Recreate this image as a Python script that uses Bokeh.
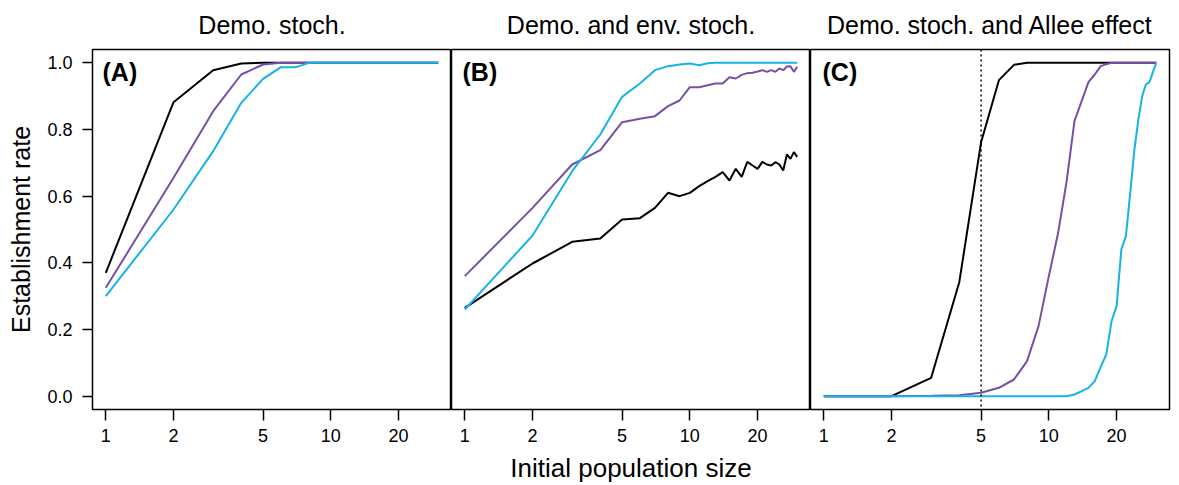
import math
from bokeh.plotting import figure
from bokeh.models import Range1d, FixedTicker, PrintfTickFormatter, Label, Span
from bokeh.layouts import row
from bokeh.embed import file_html
from bokeh.resources import INLINE

# ---------------- data ----------------
init_size = list(range(1, 31))

a_black = [0.37, 0.882, 0.978, 0.998, 1.0, 1.0, 1.0, 1.0, 1.0, 1.0,
           1.0, 1.0, 1.0, 1.0, 1.0, 1.0, 1.0, 1.0, 1.0, 1.0,
           1.0, 1.0, 1.0, 1.0, 1.0, 1.0, 1.0, 1.0, 1.0, 1.0]
a_purple = [0.325, 0.655, 0.855, 0.965, 0.995, 1.0, 1.0, 1.0, 1.0, 1.0,
            1.0, 1.0, 1.0, 1.0, 1.0, 1.0, 1.0, 1.0, 1.0, 1.0,
            1.0, 1.0, 1.0, 1.0, 1.0, 1.0, 1.0, 1.0, 1.0, 1.0]
a_cyan = [0.30, 0.56, 0.735, 0.88, 0.952, 0.987, 0.987, 1.0, 1.0, 1.0,
          1.0, 1.0, 1.0, 1.0, 1.0, 1.0, 1.0, 1.0, 1.0, 1.0,
          1.0, 1.0, 1.0, 1.0, 1.0, 1.0, 1.0, 1.0, 1.0, 1.0]

b_black = [0.265, 0.398, 0.463, 0.473, 0.53, 0.534, 0.565, 0.61, 0.60, 0.61,
           0.63, 0.645, 0.658, 0.672, 0.647, 0.682, 0.658, 0.703, 0.692, 0.682,
           0.703, 0.695, 0.692, 0.702, 0.695, 0.677, 0.725, 0.712, 0.732, 0.718]
b_purple = [0.36, 0.565, 0.695, 0.738, 0.822, 0.832, 0.84, 0.87, 0.887, 0.927,
            0.927, 0.933, 0.938, 0.938, 0.957, 0.953, 0.964, 0.969, 0.97, 0.974,
            0.978, 0.973, 0.978, 0.973, 0.983, 0.978, 0.989, 0.99, 0.973, 0.988]
b_cyan = [0.26, 0.482, 0.675, 0.785, 0.898, 0.938, 0.978, 0.99, 0.995, 0.998,
          0.993, 0.999, 1.0, 1.0, 1.0, 1.0, 1.0, 1.0, 1.0, 1.0,
          1.0, 1.0, 1.0, 1.0, 1.0, 1.0, 1.0, 1.0, 1.0, 1.0]

c_black = [0.0, 0.0, 0.055, 0.342, 0.762, 0.948, 0.994, 1.0, 1.0, 1.0,
           1.0, 1.0, 1.0, 1.0, 1.0, 1.0, 1.0, 1.0, 1.0, 1.0,
           1.0, 1.0, 1.0, 1.0, 1.0, 1.0, 1.0, 1.0, 1.0, 1.0]
c_purple = [0.0, 0.0, 0.001, 0.003, 0.01, 0.025, 0.05, 0.105, 0.21, 0.36,
            0.49, 0.645, 0.825, 0.886, 0.942, 0.965, 0.99, 0.996, 1.0, 1.0,
            1.0, 1.0, 1.0, 1.0, 1.0, 1.0, 1.0, 1.0, 1.0, 1.0]
c_cyan = [0.0, 0.0, 0.0, 0.0, 0.0, 0.0, 0.0, 0.0, 0.0, 0.0,
          0.0, 0.0, 0.005, 0.015, 0.025, 0.045, 0.088, 0.125, 0.225, 0.27,
          0.44, 0.48, 0.61, 0.74, 0.83, 0.90, 0.935, 0.942, 0.972, 1.0]

allee_threshold = 5

x_ticks = [1, 2, 5, 10, 20]
y_ticks = [0.0, 0.2, 0.4, 0.6, 0.8, 1.0]

panel_letters = ["(A)", "(B)", "(C)"]
panel_titles = ["Demo. stoch.", "Demo. and env. stoch.", "Demo. stoch. and Allee effect"]
title_offsets = [0, 10, 9]   # px shift of the centred title
x_label = "Initial population size"
y_label = "Establishment rate"

BLACK = "#000000"
PURPLE = "#7650A5"
CYAN = "#16B3E8"
FONT = "Liberation Sans"

# ---------------- ranges (R-style 4% padding, log x) ----------------
lx_max = math.log10(30)
x_start = 10 ** (-0.04 * lx_max)
x_end = 10 ** (1.04 * lx_max)
y_start, y_end = -0.04, 1.04

BORDER_LEFT = 92
BORDER_TOP = 49
FRAME_W = 359
FRAME_H = 360
TOTAL_H = 485

series = [
    (a_black, a_purple, a_cyan),
    (b_black, b_purple, b_cyan),
    (c_black, c_purple, c_cyan),
]

figs = []
for i in range(3):
    p = figure(
        title=panel_titles[i],
        x_axis_type="log",
        x_range=Range1d(x_start, x_end),
        y_range=Range1d(y_start, y_end),
        frame_width=FRAME_W, frame_height=FRAME_H,
        min_border_left=BORDER_LEFT if i == 0 else 0,
        min_border_right=10 if i == 2 else 0,
        min_border_top=BORDER_TOP, min_border_bottom=TOTAL_H - BORDER_TOP - FRAME_H,
        output_backend="svg", toolbar_location=None,
        background_fill_color="white", border_fill_color="white",
    )
    p.grid.visible = False
    p.outline_line_color = "black"
    p.outline_line_width = 1.5

    p.title.align = "center"
    p.title.vertical_align = "top"
    p.title.offset = title_offsets[i]
    p.title.standoff = 18
    p.title.text_font = FONT
    p.title.text_font_size = "25px"
    p.title.text_font_style = "normal"
    p.title.text_color = "black"

    blk, pur, cyn = series[i]
    p.line(init_size, blk, line_color=BLACK, line_width=2)
    p.line(init_size, pur, line_color=PURPLE, line_width=2)
    p.line(init_size, cyn, line_color=CYAN, line_width=2)

    if i == 2:
        p.add_layout(Span(location=allee_threshold, dimension="height",
                          line_color="black", line_width=1.5, line_dash="2 3"))

    xa = p.xaxis[0]
    xa.ticker = FixedTicker(ticks=x_ticks)
    xa.formatter = PrintfTickFormatter(format="%d")
    xa.axis_line_color = None
    xa.major_tick_line_color = "black"
    xa.major_tick_line_width = 1.5
    xa.major_tick_out = 11
    xa.major_tick_in = 0
    xa.minor_tick_line_color = None
    xa.major_label_text_font = FONT
    xa.major_label_text_font_size = "18px"
    xa.major_label_text_color = "black"
    xa.major_label_standoff = 8
    if i == 1:
        xa.axis_label = x_label
        xa.axis_label_text_font = FONT
        xa.axis_label_text_font_size = "26px"
        xa.axis_label_text_font_style = "normal"
        xa.axis_label_text_color = "black"
        xa.axis_label_standoff = 8

    ya = p.yaxis[0]
    if i == 0:
        ya.ticker = FixedTicker(ticks=y_ticks)
        ya.formatter = PrintfTickFormatter(format="%.1f")
        ya.axis_line_color = None
        ya.major_tick_line_color = "black"
        ya.major_tick_line_width = 1.5
        ya.major_tick_out = 10
        ya.major_tick_in = 0
        ya.minor_tick_line_color = None
        ya.major_label_text_font = FONT
        ya.major_label_text_font_size = "18px"
        ya.major_label_text_color = "black"
        ya.major_label_standoff = 10
        ya.axis_label = y_label
        ya.axis_label_text_font = FONT
        ya.axis_label_text_font_size = "25px"
        ya.axis_label_text_font_style = "normal"
        ya.axis_label_text_color = "black"
        ya.axis_label_standoff = 9
    else:
        ya.visible = False

    # panel letter (frame-relative screen units)
    p.add_layout(Label(x=10 + i, y=FRAME_H - 22, text=panel_letters[i],
                       x_units="screen", y_units="screen", level="overlay",
                       text_font=FONT, text_font_size="25px",
                       text_font_style="bold", text_color="black",
                       text_baseline="alphabetic", text_align="left"))
    figs.append(p)

layout = row(*figs, spacing=0)
open("out.html", "w").write(file_html(layout, INLINE))
